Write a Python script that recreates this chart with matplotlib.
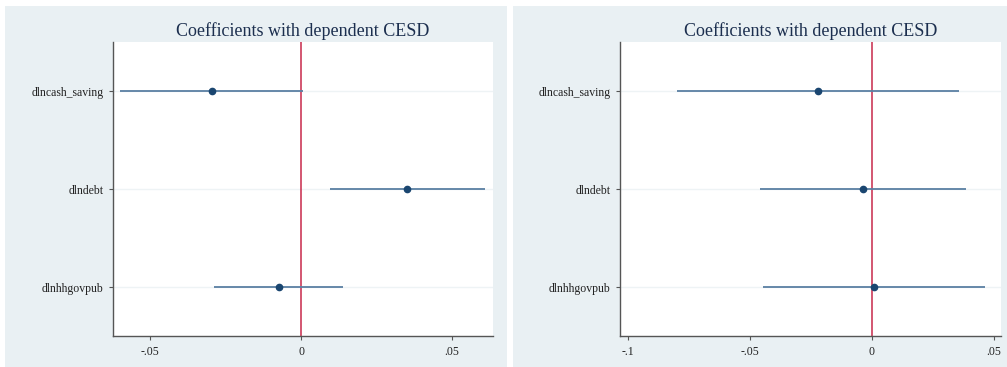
import matplotlib.pyplot as plt
from matplotlib.patches import Rectangle

# Coefficient estimates and 95% CIs, two model specifications
variables = ["dlncash_saving", "dlndebt", "dlnhhgovpub"]

coef_a = [-0.0295, 0.0351, -0.0073]
lo_a = [-0.0600, 0.0096, -0.0288]
hi_a = [0.0007, 0.0610, 0.0139]

coef_b = [-0.0221, -0.0037, 0.0008]
lo_b = [-0.0800, -0.0459, -0.0447]
hi_b = [0.0357, 0.0385, 0.0463]

xticks_a = [-0.05, 0, 0.05]
xlabels_a = ["-.05", "0", ".05"]
xticks_b = [-0.1, -0.05, 0, 0.05]
xlabels_b = ["-.1", "-.05", "0", ".05"]

title = "Coefficients with dependent CESD"

plt.rcParams['font.family'] = ['Liberation Serif', 'DejaVu Serif']

W, H = 1007, 367
fig = plt.figure(figsize=(W / 100, H / 100), dpi=100)
fig.patch.set_facecolor("white")

bg = "#e9f0f3"
# panel backgrounds, kept behind the axes
fig.patches.append(Rectangle((5 / W, 0), 502 / W, 361 / H, transform=fig.transFigure,
                             facecolor=bg, edgecolor="none", zorder=-10))
fig.patches.append(Rectangle((513 / W, 0), 494 / W, 361 / H, transform=fig.transFigure,
                             facecolor=bg, edgecolor="none", zorder=-10))


def coef_panel(rect, coef, lo, hi, xlim, ticks, labels):
    ax = fig.add_axes(rect)
    ax.set_zorder(1)
    ax.set_facecolor("white")
    ypos = range(1, len(variables) + 1)
    for y, c, l, h in zip(ypos, coef, lo, hi):
        ax.axhline(y, color="#eef3f5", lw=1.0, zorder=1)
        ax.plot([l, h], [y, y], color="#5a7fa3", lw=1.3, zorder=3,
                solid_capstyle="butt")
        ax.plot(c, y, "o", color="#1a4670", ms=4.5, zorder=4)
    ax.axvline(0, color="#c8284a", lw=1.1, zorder=2)
    ax.set_xlim(*xlim)
    ax.set_ylim(3.5, 0.5)
    ax.set_yticks(list(ypos))
    ax.set_yticklabels(variables, fontsize=8.5, color="#222222")
    ax.set_xticks(ticks)
    ax.set_xticklabels(labels, fontsize=8.5, color="#222222")
    ax.tick_params(axis="both", length=3, width=0.8, color="#555555", pad=4)
    for s in ("top", "right"):
        ax.spines[s].set_visible(False)
    for s in ("left", "bottom"):
        ax.spines[s].set_color("#555555")
        ax.spines[s].set_linewidth(1.0)
    ax.set_title(title, fontsize=13, color="#1c2f4f", pad=4)
    return ax


coef_panel([113 / W, 1 - 336 / H, 380 / W, 294 / H], coef_a, lo_a, hi_a,
           (-0.0623, 0.0636), xticks_a, xlabels_a)
coef_panel([620 / W, 1 - 336 / H, 381 / W, 294 / H], coef_b, lo_b, hi_b,
           (-0.1033, 0.0529), xticks_b, xlabels_b)

fig.savefig("out.png", dpi=100)
